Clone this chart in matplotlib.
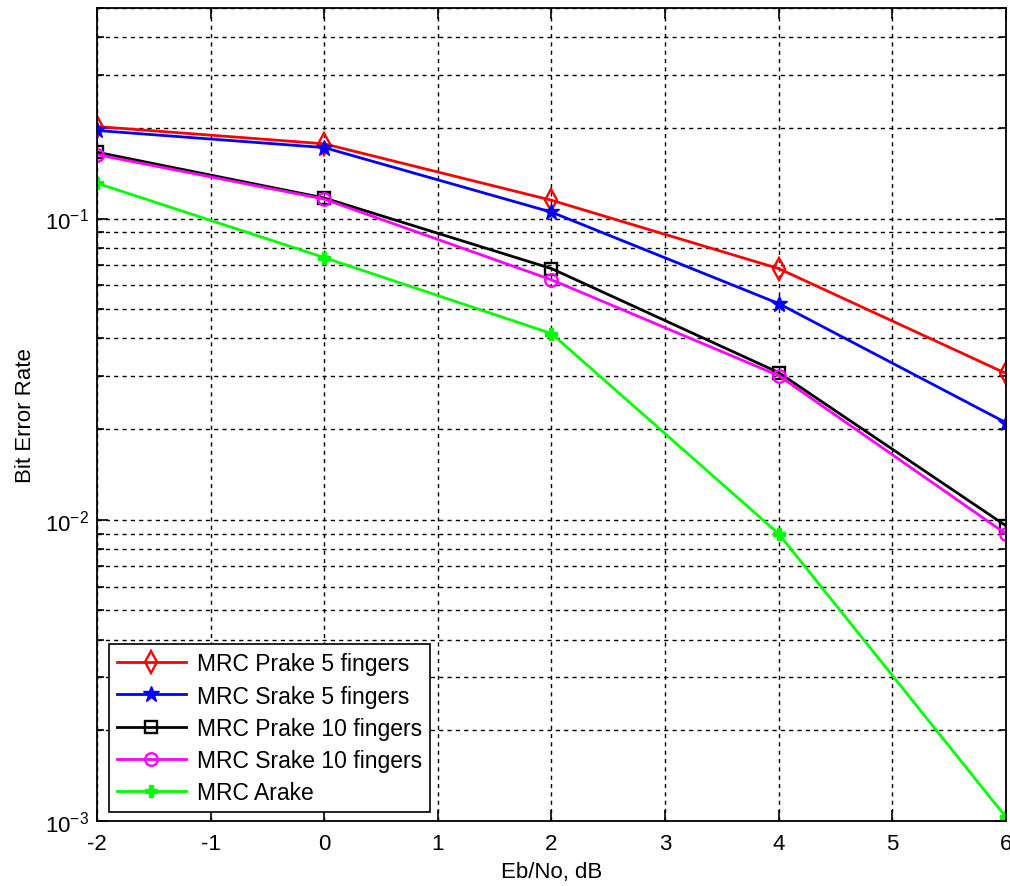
import matplotlib
matplotlib.use("Agg")
import matplotlib.pyplot as plt
from matplotlib.ticker import LogLocator, NullFormatter

plt.rcParams["font.family"] = ["Liberation Sans", "DejaVu Sans"]
plt.rcParams["mathtext.default"] = "regular"
plt.rcParams["axes.unicode_minus"] = False

# Eb/No (dB) and BER values
ebno = [-2, 0, 2, 4, 6]
prake5 = [0.202, 0.177, 0.115, 0.0682, 0.0306]
srake5 = [0.196, 0.172, 0.105, 0.0522, 0.0210]
prake10 = [0.166, 0.117, 0.0682, 0.0308, 0.00955]
srake10 = [0.163, 0.116, 0.0626, 0.0301, 0.00898]
arake = [0.131, 0.0742, 0.0415, 0.00898, 0.00103]

labels = ["MRC Prake 5 fingers", "MRC Srake 5 fingers", "MRC Prake 10 fingers",
          "MRC Srake 10 fingers", "MRC Arake"]

fig = plt.figure(figsize=(10.1, 8.87), dpi=100)
ax = fig.add_axes([0.096, 0.0733, 0.9, 0.9166])

lw = 2.0
ax.semilogy(ebno, prake5, color="#ff0000", marker="d", mfc="none", mew=1.7, ms=11, lw=lw, label=labels[0])
ax.semilogy(ebno, srake5, color="#0000ff", marker="*", ms=12, lw=lw, label=labels[1])
ax.semilogy(ebno, prake10, color="#000000", marker="s", mfc="none", mew=1.7, ms=9, lw=lw, label=labels[2])
ax.semilogy(ebno, srake10, color="#ff00ff", marker="o", mfc="none", mew=1.7, ms=9, lw=lw, label=labels[3])
ax.semilogy(ebno, arake, color="#00ff00", marker="P", ms=8, lw=lw, label=labels[4])

ax.set_xlim(-2, 6)
ax.set_ylim(1e-3, 0.5)
ax.set_xticks(range(-2, 7))
ax.yaxis.set_major_locator(LogLocator(base=10, numticks=10))
ax.yaxis.set_minor_locator(LogLocator(base=10, subs=range(2, 10), numticks=20))
ax.yaxis.set_minor_formatter(NullFormatter())

gkw = dict(color="black", linestyle=(0, (3, 3)), linewidth=1.0)
ax.grid(True, which="major", **gkw)
ax.grid(True, which="minor", axis="y", **gkw)

ax.tick_params(which="both", direction="in", top=True, right=True, labelsize=16, width=1.2)
ax.tick_params(which="major", length=8)
ax.tick_params(which="minor", length=5)
ax.tick_params(axis="x", pad=9)
ax.tick_params(axis="y", pad=6)
for s in ax.spines.values():
    s.set_linewidth(1.3)

ax.set_xlabel("Eb/No, dB", fontsize=16, labelpad=5)
ax.set_ylabel("Bit Error Rate", fontsize=16, labelpad=6)

leg = ax.legend(loc="lower left", bbox_to_anchor=(0.013, 0.011), borderaxespad=0,
                fontsize=16.5, fancybox=False, framealpha=1, edgecolor="black",
                handlelength=3.0, labelspacing=0.4, borderpad=0.35, handletextpad=0.5)
leg.get_frame().set_linewidth(1.2)

fig.savefig("out.png", dpi=100)
